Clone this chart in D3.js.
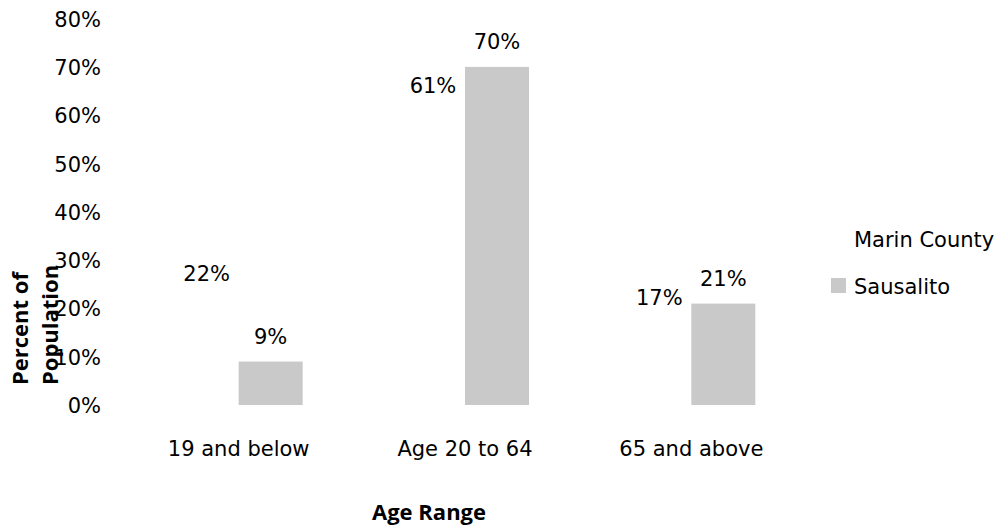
<!DOCTYPE html>
<html>
<head>
<meta charset="utf-8">
<script src="https://cdn.jsdelivr.net/npm/d3@7"></script>
<style>
html,body{margin:0;padding:0;background:#fff;}
svg{display:block;}
</style>
</head>
<body>
<svg id="chart" width="1003" height="527"></svg>
<script>
const categories = ["19 and below", "Age 20 to 64", "65 and above"];
const seriesNames = ["Marin County", "Sausalito"];
const marinValues = [22, 61, 17];
const sausalitoValues = [9, 70, 21];
const yTicks = [0, 10, 20, 30, 40, 50, 60, 70, 80];
const seriesColors = ["#ffffff", "#c9c9c9"];

const svg = d3.select("#chart");
const font = "'DejaVu Sans', sans-serif";
const boldFont = "'Open Sans', sans-serif";

const y = d3.scaleLinear().domain([0, 80]).range([405, 18.6]);
const x0 = d3.scaleBand().domain(categories).range([125.5, 804.5]).paddingInner(0).paddingOuter(0);
const bw = x0.bandwidth();
const x1 = d3.scaleBand().domain(seriesNames).range([bw / 2 - 64, bw / 2 + 64]).padding(0);

const data = categories.map((c, i) => ({cat: c, vals: [
  {s: seriesNames[0], v: marinValues[i], k: 0},
  {s: seriesNames[1], v: sausalitoValues[i], k: 1}
]}));

// Y axis (labels only)
const yAxis = d3.axisLeft(y).tickValues(yTicks).tickFormat(d => d + "%").tickSize(0).tickPadding(0);
const gy = svg.append("g").attr("transform", "translate(101,0)").call(yAxis);
gy.select(".domain").remove();
gy.selectAll("text").attr("font-family", font).attr("font-size", 21).attr("fill", "#000").attr("dy", "0.36em").attr("x", 0);

// X axis labels
const xAxis = d3.axisBottom(x0).tickSize(0).tickPadding(0);
const gx = svg.append("g").attr("transform", "translate(0,456)").call(xAxis);
gx.select(".domain").remove();
gx.selectAll("text").attr("font-family", font).attr("font-size", 21).attr("fill", "#000").attr("dy", 0).attr("y", 0);

// Bars
const groups = svg.append("g").selectAll("g").data(data).join("g")
  .attr("transform", d => `translate(${x0(d.cat)},0)`);
groups.selectAll("rect").data(d => d.vals).join("rect")
  .attr("x", d => x1(d.s))
  .attr("width", x1.bandwidth())
  .attr("y", d => y(d.v))
  .attr("height", d => y(0) - y(d.v))
  .attr("fill", d => seriesColors[d.k]);
groups.selectAll("text").data(d => d.vals).join("text")
  .attr("x", d => x1(d.s) + x1.bandwidth() / 2)
  .attr("y", d => y(d.v) - 17.5)
  .attr("text-anchor", "middle")
  .attr("font-family", font).attr("font-size", 21).attr("fill", "#000")
  .text(d => d.v + "%");

// Axis titles
svg.append("text").attr("x", 372).attr("y", 520)
  .attr("font-family", boldFont).attr("font-weight", "bold").attr("font-size", 22)
  .text("Age Range");
const yt = svg.append("text").attr("transform", "translate(28,385) rotate(-90)")
  .attr("font-family", boldFont).attr("font-weight", "bold").attr("font-size", 22);
yt.append("tspan").attr("x", 0).attr("y", 0).text("Percent of");
yt.append("tspan").attr("x", 0).attr("y", 30).text("Population");

// Legend
const legendY = [247, 294];
const lg = svg.append("g").selectAll("g").data(seriesNames).join("g");
lg.append("rect").attr("x", 831).attr("y", (d, i) => legendY[i] - 16).attr("width", 15).attr("height", 15)
  .attr("fill", (d, i) => seriesColors[i]);
lg.append("text").attr("x", 854).attr("y", (d, i) => legendY[i])
  .attr("font-family", font).attr("font-size", 21).attr("fill", "#000").text(d => d);
</script>
</body>
</html>
